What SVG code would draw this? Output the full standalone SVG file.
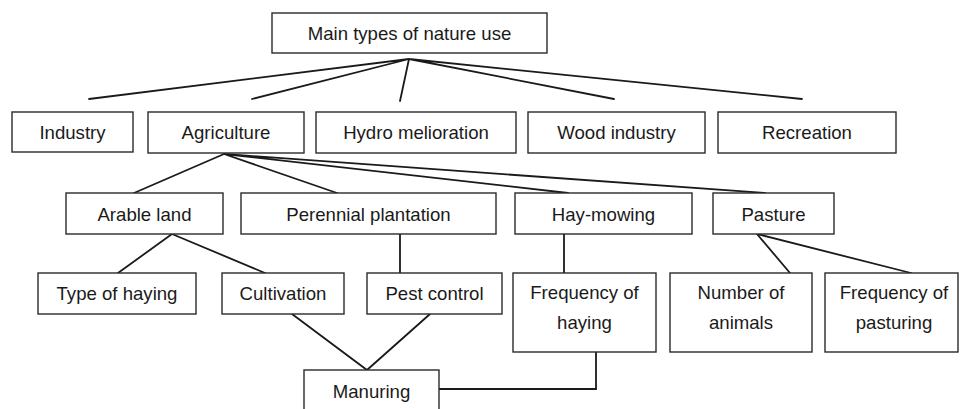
<svg xmlns="http://www.w3.org/2000/svg" width="963" height="409" viewBox="0 0 963 409">
<style>
.box{fill:#fff;stroke:#2a2a2a;stroke-width:1.4}
.t{font-family:"Liberation Sans",Arial,sans-serif;font-size:18.6px;fill:#1a1a1a;text-anchor:middle}
.c{fill:none;stroke:#1a1a1a;stroke-width:1.8;stroke-linecap:round;stroke-linejoin:miter}
</style>
<rect width="963" height="409" fill="#fff"/>
<g id="connectors">
<path class="c" d="M409,59 L89,99 M409,59 L252,99 M409,59 L400,101 M409,59 L614,99 M409,59 L802,99"/>
<path class="c" d="M224,154 L134,193 M224,154 L337,193 M224,154 L568,193 M224,154 L765,193"/>
<path class="c" d="M172,234 L118,273 M172,234 L265,273"/>
<path class="c" d="M400,234 L400,273 M564,234 L564,273"/>
<path class="c" d="M757,234 L790,273 M757,234 L911,273"/>
<path class="c" d="M292,314 L367,370 L430,314"/>
<path class="c" d="M596,352 L596,389 L439,389"/>
</g>
<g id="main"><rect class="box" x="272" y="13" width="275" height="40"/><text class="t" x="409.5" y="40">Main types of nature use</text></g>
<g id="industry"><rect class="box" x="12" y="112" width="121" height="40"/><text class="t" x="72.5" y="139">Industry</text></g>
<g id="agriculture"><rect class="box" x="148" y="112" width="156" height="41"/><text class="t" x="226" y="139">Agriculture</text></g>
<g id="hydro"><rect class="box" x="316" y="112" width="200" height="41"/><text class="t" x="416" y="139">Hydro melioration</text></g>
<g id="wood"><rect class="box" x="528" y="112" width="177" height="41"/><text class="t" x="616.5" y="139">Wood industry</text></g>
<g id="recreation"><rect class="box" x="718" y="112" width="178" height="41"/><text class="t" x="807" y="139">Recreation</text></g>
<g id="arable"><rect class="box" x="66" y="193" width="157" height="41"/><text class="t" x="144.5" y="220.5">Arable land</text></g>
<g id="perennial"><rect class="box" x="241" y="193" width="255" height="41"/><text class="t" x="368.5" y="220.5">Perennial plantation</text></g>
<g id="haymowing"><rect class="box" x="515" y="193" width="177" height="41"/><text class="t" x="603.5" y="220.5">Hay-mowing</text></g>
<g id="pasture"><rect class="box" x="713" y="193" width="121" height="41"/><text class="t" x="773.5" y="220.5">Pasture</text></g>
<g id="typeofhaying"><rect class="box" x="38" y="273" width="158" height="41"/><text class="t" x="117" y="300">Type of haying</text></g>
<g id="cultivation"><rect class="box" x="222" y="273" width="122" height="41"/><text class="t" x="283" y="300">Cultivation</text></g>
<g id="pestcontrol"><rect class="box" x="367" y="273" width="135" height="41"/><text class="t" x="434.5" y="300">Pest control</text></g>
<g id="freqhaying"><rect class="box" x="513" y="273" width="143" height="79"/><text class="t" x="584.5" y="299">Frequency of</text><text class="t" x="584.5" y="329">haying</text></g>
<g id="numanimals"><rect class="box" x="670" y="273" width="142" height="79"/><text class="t" x="741" y="299">Number of</text><text class="t" x="741" y="329">animals</text></g>
<g id="freqpasturing"><rect class="box" x="825" y="273" width="133" height="79"/><text class="t" x="894" y="299">Frequency of</text><text class="t" x="894" y="329">pasturing</text></g>
<g id="manuring"><rect class="box" x="304" y="370" width="135" height="44"/><text class="t" x="371.5" y="398">Manuring</text></g>
</svg>
